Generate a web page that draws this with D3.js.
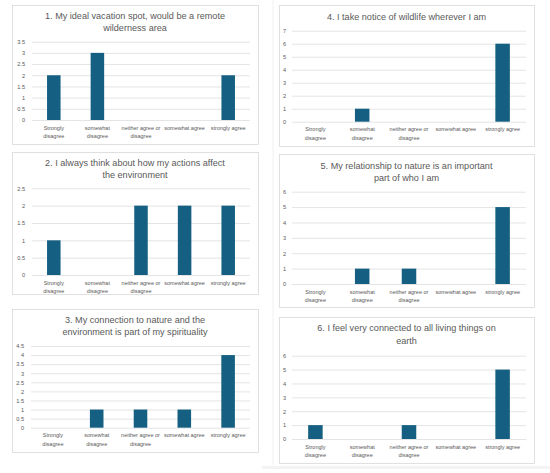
<!DOCTYPE html>
<html>
<head>
<meta charset="utf-8">
<script src="https://cdn.jsdelivr.net/npm/d3@7"></script>
<style>
  body { margin: 0; background: #fff; }
  svg { display: block; }
  .grid line { stroke: #d9d9d9; stroke-width: 0.7; }
  .grid path { display: none; }
  .grid text { fill: #595959; font-size: 5.6px; font-family: "Liberation Sans", Arial, sans-serif; }
</style>
</head>
<body>
<div id="chart"></div>
<script>
// answer categories and how they wrap under the bars
const categories = ["Strongly disagree", "somewhat disagree", "neither agree or disagree", "somewhat agree", "strongly agree"];
const categoryLines = [["Strongly", "disagree"], ["somewhat", "disagree"], ["neither agree or", "disagree"], ["somewhat agree"], ["strongly agree"]];

const titles = [
  ["1. My ideal vacation spot, would be a remote", "wilderness area"],
  ["2. I always think about how my actions affect", "the environment"],
  ["3. My connection to nature and the", "environment is part of my spirituality"],
  ["4. I take notice of wildlife wherever I am"],
  ["5. My relationship to nature is an important", "part of who I am"],
  ["6. I feel very connected to all living things on", "earth"]
];

// counts per category
const q1 = [2, 3, 0, 0, 2];
const q2 = [1, 0, 2, 2, 2];
const q3 = [0, 1, 1, 1, 4];
const q4 = [0, 1, 0, 0, 6];
const q5 = [0, 1, 1, 0, 5];
const q6 = [1, 0, 1, 0, 5];
const series = [q1, q2, q3, q4, q5, q6];

// y axis tops and steps
const yMax = [3.5, 2.5, 4.5, 7, 6, 6];
const yStep = [0.5, 0.5, 0.5, 1, 1, 1];

// where each little chart sits on the page
const boxes = [
  {x: 12,  y: 5,   w: 246, h: 139, titleY: [16, 28],     plotL: 32,  plotR: 250, plotT: 41.7,  plotB: 120},
  {x: 12,  y: 152, w: 246, h: 142, titleY: [163.3, 174.5], plotL: 32, plotR: 250, plotT: 188.3, plotB: 275},
  {x: 12,  y: 309, w: 246, h: 143, titleY: [320, 332.3],  plotL: 31,  plotR: 250, plotT: 346,   plotB: 427.7},
  {x: 279, y: 5,   w: 255, h: 141, titleY: [16.7],        plotL: 292, plotR: 526, plotT: 30.7,  plotB: 121.7},
  {x: 279, y: 154, w: 255, h: 153, titleY: [165.7, 178.3], plotL: 292, plotR: 526, plotT: 191.7, plotB: 284},
  {x: 279, y: 317, w: 255, h: 146, titleY: [328.3, 340.7], plotL: 292, plotR: 526, plotT: 355.7, plotB: 439}
];

const width = 550, height = 473;
const barColor = "#156082";
const textColor = "#595959";
const font = "'Liberation Sans', Arial, sans-serif";

const svg = d3.select("#chart").append("svg")
    .attr("width", width)
    .attr("height", height);

svg.append("rect").attr("width", width).attr("height", height).attr("fill", "#fff");

// faint seam between the two columns of screenshots
svg.append("line")
    .attr("x1", 273).attr("x2", 273).attr("y1", 0).attr("y2", 465)
    .attr("stroke", "#f0f0f0").attr("stroke-width", 1);
svg.append("rect")
    .attr("x", 262).attr("y", 466).attr("width", 288).attr("height", 3)
    .attr("fill", "#f3f3f3");

boxes.forEach((b, i) => {
  const g = svg.append("g");

  g.append("rect")
      .attr("x", b.x + 0.5).attr("y", b.y + 0.5)
      .attr("width", b.w).attr("height", b.h)
      .attr("fill", "#fff")
      .attr("stroke", "#d9d9d9")
      .attr("stroke-width", 0.8);

  // title
  titles[i].forEach((line, j) => {
    g.append("text")
        .attr("x", b.x + b.w / 2)
        .attr("y", b.titleY[j])
        .attr("dy", "0.35em")
        .attr("text-anchor", "middle")
        .attr("fill", textColor)
        .style("font-family", font)
        .style("font-size", "9.1px")
        .text(line);
  });

  const x = d3.scaleBand()
      .domain(categories)
      .range([b.plotL, b.plotR])
      .paddingInner(0.69)
      .paddingOuter(0.345);

  const y = d3.scaleLinear()
      .domain([0, yMax[i]])
      .range([b.plotB, b.plotT]);

  const ticks = d3.range(0, yMax[i] + yStep[i] / 2, yStep[i]);

  const axis = d3.axisLeft(y)
      .tickValues(ticks)
      .tickSize(-(b.plotR - b.plotL))
      .tickPadding(i < 3 ? 7 : 6)
      .tickFormat(d3.format("~g"));

  g.append("g")
      .attr("class", "grid")
      .attr("transform", `translate(${b.plotL},0)`)
      .call(axis);

  // bars
  g.selectAll(".bar")
      .data(series[i])
      .enter()
      .append("rect")
      .attr("class", "bar")
      .attr("x", (d, k) => x(categories[k]))
      .attr("width", x.bandwidth())
      .attr("y", d => y(d))
      .attr("height", d => b.plotB - y(d))
      .attr("fill", barColor);

  // category labels
  categories.forEach((c, k) => {
    const t = g.append("text")
        .attr("text-anchor", "middle")
        .attr("fill", textColor)
        .style("font-family", font)
        .style("font-size", "5.5px");
    categoryLines[k].forEach((line, j) => {
      t.append("tspan")
          .attr("x", x(c) + x.bandwidth() / 2)
          .attr("y", b.plotB + 9.5 + j * 8.3)
          .text(line);
    });
  });
});
</script>
</body>
</html>
